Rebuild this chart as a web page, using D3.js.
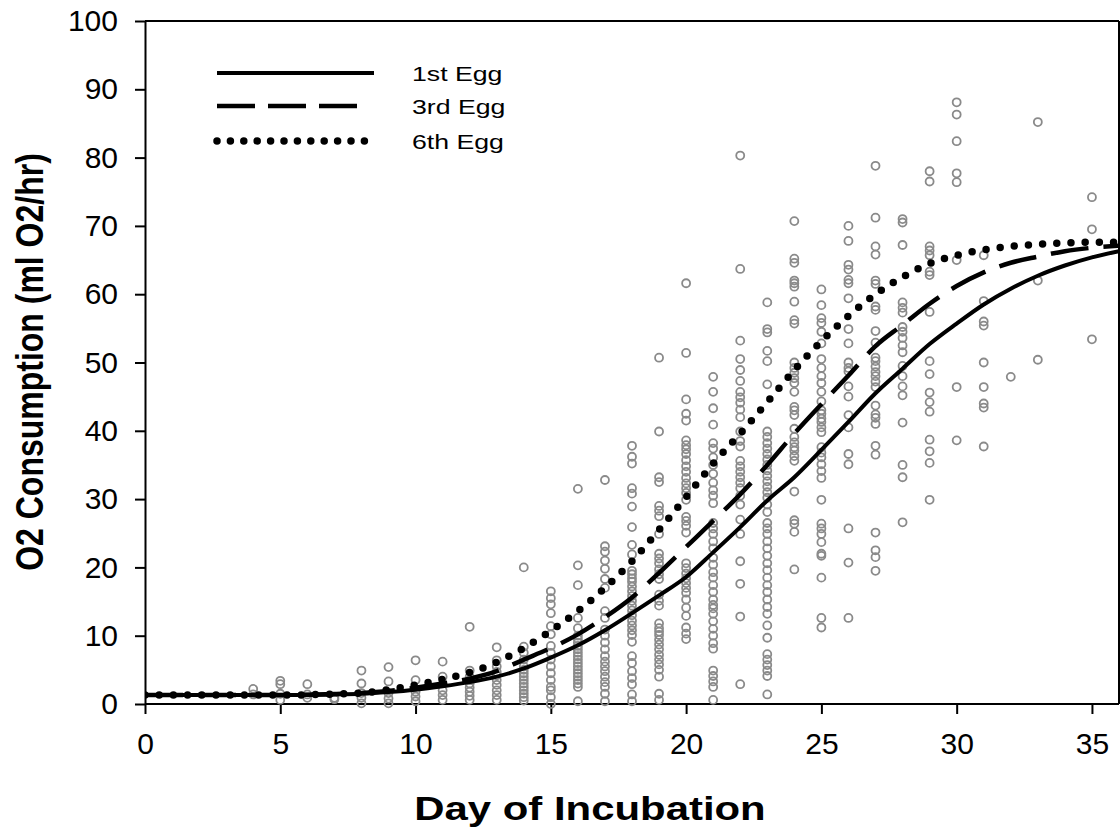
<!DOCTYPE html>
<html>
<head>
<meta charset="utf-8">
<script src="https://cdn.jsdelivr.net/npm/d3@7"></script>
<style>
  html, body { margin: 0; padding: 0; background: #fff; }
  svg { display: block; }
  text { font-family: "Liberation Sans", Arial, sans-serif; }
</style>
</head>
<body>
<svg id="chart" width="1120" height="828"></svg>
<script>
// ---- data ----
const xTicks = [0, 5, 10, 15, 20, 25, 30, 35];
const yTicks = [0, 10, 20, 30, 40, 50, 60, 70, 80, 90, 100];

const seriesNames = ["1st Egg", "3rd Egg", "6th Egg"];

const curveDays = [0,1,2,3,4,5,6,7,8,9,10,11,12,13,14,15,16,17,18,19,20,21,22,23,24,25,26,27,28,29,30,31,32,33,34,35,36];
const egg1 = [1.3,1.3,1.3,1.3,1.3,1.3,1.35,1.4,1.5,1.75,2.1,2.6,3.2,4.0,5.2,6.8,8.6,10.8,13.3,15.9,18.6,22.2,25.9,29.8,33.2,37.2,41.3,45.5,49.1,52.7,55.7,58.5,60.8,62.7,64.2,65.4,66.3];
const egg3 = [1.3,1.3,1.3,1.3,1.3,1.3,1.35,1.45,1.6,1.9,2.4,3.0,3.7,4.8,6.5,8.2,10.2,12.7,15.6,19.2,23.0,26.8,30.7,35.0,39.6,43.9,48.1,52.4,55.5,58.6,61.2,63.2,64.6,65.5,66.3,66.8,67.1];
const egg6 = [1.3,1.3,1.3,1.3,1.3,1.3,1.35,1.45,1.6,2.1,2.8,3.6,4.6,6.1,8.2,10.7,13.6,17.0,20.9,25.5,30.3,35.2,39.6,44.2,48.9,53.1,56.8,60.0,62.5,64.5,65.7,66.5,67.0,67.3,67.5,67.6,67.6];

// observed O2 consumption, one list per day of incubation
const obsDays = [4,5,6,7,8,9,10,11,12,13,14,15,16,17,18,19,20,21,22,23,24,25,26,27,28,29,30,31,32,33,35];
const obsValues = [
  [2.2, 1.4],
  [3.4, 2.9, 1.5, 0.6],
  [2.9, 1.4, 0.9],
  [0.9, 0.7],
  [4.9, 3.0, 1.6, 0.9, 0.1],
  [5.4, 3.3, 1.6, 0.8, 0.1],
  [6.4, 3.5, 1.8, 1.1, 0.4],
  [6.2, 4.0, 2.0, 1.3, 0.6],
  [11.3, 4.9, 4.0, 3.5, 3.0, 2.4, 1.8, 1.2, 0.6],
  [8.3, 6.4, 5.5, 4.7, 4.2, 3.5, 2.8, 2.0, 1.3, 0.6],
  [20.0, 8.4, 7.5, 6.5, 5.5, 5.0, 4.5, 4.0, 3.5, 3.0, 2.5, 2.0, 1.5, 1.0, 0.5],
  [16.5, 15.5, 14.6, 13.3, 11.4, 10.2, 8.5, 7.5, 6.5, 5.5, 4.5, 3.5, 2.5, 2.0, 1.0, 0.0],
  [31.5, 20.3, 17.4, 12.6, 11.1, 10.0, 9.5, 9.0, 8.5, 8.0, 7.5, 7.0, 6.5, 6.0, 5.5, 5.0, 4.5, 4.0, 3.5, 3.0, 2.5, 0.4],
  [32.8, 23.1, 22.3, 21.0, 19.8, 18.3, 17.0, 13.6, 12.6, 10.9, 10.0, 9.0, 8.0, 7.0, 6.2, 5.5, 4.8, 4.0, 3.2, 2.5, 1.5, 0.4],
  [37.8, 36.2, 35.2, 31.6, 30.8, 28.9, 25.9, 23.3, 21.9, 19.5, 19.0, 18.4, 17.9, 17.2, 16.5, 15.8, 15.1, 14.4, 13.7, 13.0, 12.2, 11.5, 10.8, 10.1, 9.1, 7.0, 6.0, 4.8, 3.8, 2.9, 1.4, 0.4],
  [50.7, 39.9, 33.2, 32.5, 29.0, 28.3, 27.5, 24.9, 22.0, 21.3, 20.6, 19.7, 19.0, 18.3, 16.0, 15.1, 14.4, 11.8, 11.1, 10.6, 10.1, 9.4, 8.7, 8.0, 7.2, 6.5, 5.8, 5.0, 4.0, 1.5, 0.6],
  [61.6, 51.4, 44.6, 42.5, 41.5, 38.6, 37.9, 37.3, 36.6, 35.7, 34.8, 34.0, 33.1, 32.3, 31.6, 30.9, 29.9, 27.4, 26.8, 26.1, 25.1, 20.6, 19.9, 19.1, 18.4, 17.7, 17.0, 16.3, 15.3, 14.1, 12.9, 11.2, 10.3, 9.5],
  [47.9, 45.7, 43.3, 40.9, 38.2, 37.4, 36.1, 35.0, 33.7, 32.4, 31.3, 30.5, 29.4, 26.5, 25.7, 24.9, 23.8, 22.8, 21.4, 20.4, 19.3, 18.5, 17.4, 16.4, 15.3, 14.5, 14.0, 13.2, 12.1, 11.0, 10.0, 8.9, 8.1, 4.9, 4.1, 3.3, 2.5, 0.6],
  [80.3, 63.7, 53.2, 50.5, 48.9, 47.3, 45.7, 44.9, 44.1, 43.1, 42.0, 39.9, 38.5, 37.7, 35.6, 34.8, 34.0, 33.2, 32.4, 31.6, 30.5, 29.2, 27.0, 24.9, 20.9, 17.6, 12.8, 2.9],
  [58.8, 54.9, 54.4, 51.7, 50.2, 46.8, 39.9, 39.1, 38.2, 37.4, 36.6, 35.8, 35.0, 34.2, 33.4, 32.6, 31.8, 31.0, 30.2, 29.2, 28.1, 26.5, 25.7, 24.9, 23.8, 22.8, 21.7, 20.6, 19.6, 18.5, 17.4, 16.4, 15.3, 14.2, 13.2, 11.5, 9.7, 7.3, 6.5, 5.7, 4.9, 4.1, 1.4],
  [70.7, 65.2, 64.6, 62.0, 61.6, 61.1, 58.9, 56.2, 55.7, 50.0, 49.2, 48.5, 47.7, 47.0, 45.7, 43.5, 43.0, 42.3, 40.3, 39.1, 38.3, 37.6, 37.1, 36.3, 35.6, 31.1, 26.9, 26.4, 25.2, 19.7],
  [60.7, 58.4, 56.5, 55.8, 54.5, 52.8, 50.5, 49.2, 48.0, 47.0, 45.7, 44.3, 43.0, 42.5, 41.8, 41.3, 40.5, 39.8, 37.6, 36.8, 36.1, 35.1, 34.1, 33.1, 29.9, 26.4, 25.7, 24.9, 23.7, 22.0, 21.7, 18.5, 12.6, 11.2],
  [70.0, 67.8, 64.3, 63.6, 62.1, 61.6, 59.4, 54.9, 52.8, 50.0, 49.2, 48.7, 46.5, 45.0, 42.3, 40.5, 36.6, 35.1, 25.7, 20.7, 12.6],
  [78.8, 71.2, 67.0, 65.8, 62.0, 61.5, 58.2, 57.7, 54.6, 52.9, 50.7, 50.2, 49.4, 48.6, 48.0, 47.2, 46.4, 43.7, 42.4, 41.9, 41.0, 37.8, 36.5, 25.1, 22.5, 21.5, 19.5],
  [71.0, 70.5, 67.2, 58.8, 58.0, 57.3, 55.2, 54.5, 53.6, 52.5, 51.5, 49.5, 48.0, 46.5, 45.2, 41.2, 35.0, 33.2, 26.6],
  [78.0, 76.5, 67.0, 66.4, 65.7, 63.3, 62.8, 57.4, 50.2, 48.3, 45.6, 44.2, 42.8, 38.7, 37.0, 35.3, 29.9],
  [88.1, 86.3, 82.4, 77.7, 76.4, 65.0, 46.4, 38.6],
  [65.7, 59.0, 56.0, 55.4, 50.0, 46.4, 44.0, 43.4, 37.7],
  [47.9],
  [85.2, 62.0, 50.4],
  [74.2, 69.5, 53.4]
];

// ---- layout ----
const svg = d3.select("#chart");
const x = d3.scaleLinear().domain([0, 36]).range([145, 1119]);
const y = d3.scaleLinear().domain([0, 100]).range([704, 21]);

// frame (top and right)
svg.append("line").attr("x1", x(0)).attr("x2", x(36)).attr("y1", y(100)).attr("y2", y(100))
  .attr("stroke", "#000").attr("stroke-width", 2);
svg.append("line").attr("x1", x(36)).attr("x2", x(36)).attr("y1", y(100)).attr("y2", y(0))
  .attr("stroke", "#000").attr("stroke-width", 2);

// axes
const xAxis = svg.append("g").attr("transform", `translate(0,${y(0)})`)
  .call(d3.axisBottom(x).tickValues(xTicks).tickSize(10).tickPadding(19).tickSizeOuter(0));
const yAxis = svg.append("g").attr("transform", `translate(${x(0)},0)`)
  .call(d3.axisLeft(y).tickValues(yTicks).tickSize(10).tickPadding(17).tickSizeOuter(0));
[xAxis, yAxis].forEach(g => {
  g.select(".domain").attr("stroke", "#000").attr("stroke-width", 2);
  g.selectAll(".tick line").attr("stroke", "#000").attr("stroke-width", 2);
  g.selectAll(".tick text").attr("fill", "#000").style("font-size", "30px")
    .style("font-family", "'Liberation Sans', Arial, sans-serif");
});
xAxis.select(".domain").attr("d", `M${x(0)},0H${x(36)}`);

// scatter
const pts = [];
obsDays.forEach((d, i) => obsValues[i].forEach(v => pts.push({ d, v })));
svg.append("g").selectAll("circle").data(pts).join("circle")
  .attr("cx", p => x(p.d)).attr("cy", p => y(p.v)).attr("r", 4)
  .attr("fill", "none").attr("stroke", "#8a8a8a").attr("stroke-width", 1.8);

// curves
const styles = [
  { data: egg1, width: 4, dash: null, legDash: null, cap: "butt" },
  { data: egg3, width: 4.5, dash: "38 15", legDash: "38 13", cap: "butt" },
  { data: egg6, width: 7.5, dash: "0 14.2", legDash: "0 13.4", cap: "round" }
];
const line = d3.line().x((d, i) => x(curveDays[i])).y(d => y(d)).curve(d3.curveMonotoneX);
svg.append("clipPath").attr("id", "plotclip").append("rect")
  .attr("x", x(0)).attr("y", y(100)).attr("width", x(36) - x(0)).attr("height", y(0) - y(100));
styles.forEach(s => {
  svg.append("path").datum(s.data).attr("d", line).attr("fill", "none")
    .attr("stroke", "#000").attr("stroke-width", s.width)
    .attr("stroke-dasharray", s.dash).attr("stroke-linecap", s.cap)
    .attr("clip-path", "url(#plotclip)");
});

// legend
const legX1 = 217, legLens = [157, 140, 147.5], legY = [73, 106, 141];
styles.forEach((s, i) => {
  svg.append("line").attr("x1", legX1).attr("x2", legX1 + legLens[i])
    .attr("y1", legY[i]).attr("y2", legY[i])
    .attr("stroke", "#000").attr("stroke-width", s.width)
    .attr("stroke-dasharray", s.legDash).attr("stroke-linecap", s.cap);
  svg.append("text").attr("transform", `translate(412,${legY[i]}) scale(1.27,1)`)
    .attr("dy", "0.36em").style("font-size", "21px").attr("fill", "#000").text(seriesNames[i]);
});

// axis titles
svg.append("text").attr("transform", "translate(590,820) scale(1.27,1)").attr("text-anchor", "middle")
  .style("font-size", "33px").style("font-weight", "bold").text("Day of Incubation");
svg.append("text").attr("transform", "translate(43,362) scale(1.2,1) rotate(-90)").attr("text-anchor", "middle")
  .style("font-size", "32px").style("font-weight", "bold").text("O2 Consumption (ml O2/hr)");
</script>
</body>
</html>
